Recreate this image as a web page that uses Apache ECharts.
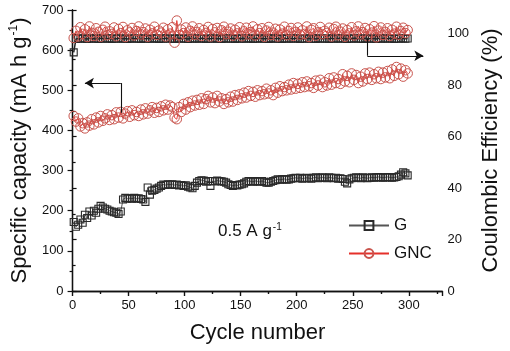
<!DOCTYPE html>
<html>
<head>
<meta charset="utf-8">
<script src="https://cdn.jsdelivr.net/npm/echarts@6/dist/echarts.min.js"></script>
<style>
html,body{margin:0;padding:0;background:#fff;}
#chart{width:510px;height:351px;}
</style>
</head>
<body>
<div id="chart"></div>
<script>
// Cycles are sampled every 2nd cycle: 1, 3, 5, ... 299
const cycleStart = 1;
const cycleStep = 2;

// Specific capacity of G (mA h g-1)
const gCapacity = [
172,160,165,178,170,190,182,198,188,200,
195,205,212,208,205,203,200,198,196,195,
192,198,228,232,230,231,230,232,230,231,
229,228,222,258,240,250,252,255,258,262,
265,264,266,265,266,264,265,263,264,262,
263,260,258,256,262,270,274,276,275,272,
274,262,274,273,275,274,273,272,270,266,
264,262,264,263,265,266,268,272,274,273,
272,274,273,272,274,272,270,270,272,274,
276,278,277,278,279,277,278,280,281,282,
281,282,280,281,282,281,280,282,283,281,
282,283,282,281,283,282,281,282,280,281,
279,272,268,278,281,282,283,282,281,283,
282,281,282,283,282,283,284,283,282,283,
284,283,282,283,284,286,290,296,293,288];

// Specific capacity of GNC (mA h g-1)
const gncCapacity = [
436,422,430,410,418,405,420,412,428,415,
432,420,436,424,430,440,426,438,428,445,
432,446,430,442,448,434,450,438,446,436,
452,440,455,442,450,458,444,456,446,460,
450,464,452,462,458,432,428,458,446,466,
452,470,458,474,462,476,464,480,466,478,
486,470,482,468,486,472,480,466,478,470,
484,472,488,476,490,480,494,482,498,486,
496,484,500,488,498,490,504,492,500,488,
506,494,510,498,508,500,514,502,518,504,
516,506,520,508,522,510,518,506,524,512,
526,508,520,512,530,514,532,518,528,516,
540,522,536,520,542,526,538,518,534,522,
542,528,544,526,540,530,546,528,544,532,
548,530,552,536,558,540,554,534,550,542];

// Coulombic efficiency of G (%)
const gEfficiency = [
92.8,98.0,98.2,98.1,98.3,98.2,98.0,98.2,98.3,98.1,
98.2,98.0,98.3,98.2,98.1,98.2,98.3,98.0,98.2,98.1,
98.3,98.2,98.1,98.2,98.0,98.2,98.3,98.1,98.2,98.2,
98.0,98.3,98.1,98.2,98.2,98.1,98.3,98.2,98.0,98.2,
98.1,98.3,98.2,98.2,98.1,98.0,98.2,98.3,98.1,98.2,
98.2,98.0,98.3,98.1,98.2,98.2,98.1,98.3,98.2,98.0,
98.2,98.1,98.3,98.2,98.1,98.2,98.0,98.3,98.2,98.1,
98.2,98.2,98.0,98.3,98.1,98.2,98.2,98.1,98.3,98.2,
98.0,98.2,98.1,98.3,98.2,98.1,98.2,98.0,98.3,98.2,
98.1,98.2,98.2,98.0,98.3,98.1,98.2,98.2,98.1,98.3,
98.2,98.0,98.2,98.1,98.3,98.2,98.1,98.2,98.0,98.3,
98.2,98.1,98.2,98.2,98.0,98.3,98.1,98.2,98.2,98.1,
98.3,98.2,98.0,98.2,98.1,98.3,98.2,98.1,98.2,98.0,
98.3,98.2,98.1,98.2,98.2,98.0,98.3,98.1,98.2,98.2,
98.1,98.3,98.2,98.0,98.2,98.1,98.3,98.2,98.1,98.2];

// Coulombic efficiency of GNC (%)
const gncEfficiency = [
98.4,101.2,99.0,102.6,100.0,101.8,98.8,102.9,100.4,99.2,
102.2,100.8,98.9,101.6,102.8,99.5,101.0,100.0,102.5,99.1,
101.9,100.3,102.7,98.8,101.4,100.6,102.3,99.4,101.1,102.9,
99.8,100.7,102.1,98.9,101.6,100.2,102.8,99.6,101.3,100.5,
102.4,99.0,101.8,100.1,102.6,96.6,105.2,99.5,101.7,100.3,
102.5,98.9,101.2,102.9,99.7,100.8,102.2,99.2,101.5,100.4,
102.7,99.0,101.9,100.6,102.3,98.8,101.4,102.8,99.9,100.9,
102.1,99.3,101.6,100.2,102.6,99.1,101.0,102.4,99.8,100.7,
102.9,99.4,101.8,100.3,102.2,98.9,101.3,102.7,99.6,100.5,
102.0,99.0,101.7,100.1,102.8,99.5,101.1,102.3,99.2,100.8,
102.5,99.7,101.4,100.0,102.9,98.8,101.6,102.2,99.3,100.6,
102.7,99.9,101.2,100.4,102.4,99.0,101.9,102.8,99.5,100.9,
102.1,98.9,101.5,100.2,102.6,99.4,101.0,102.9,99.8,100.7,
102.3,99.1,101.8,100.5,103.0,98.7,101.3,102.5,99.6,100.8,
102.2,99.2,101.6,100.1,102.8,99.7,101.1,102.4,100.3,101.5];

const xTickLabels = ['0','50','100','150','200','250','300'];
const leftTickLabels = ['0','100','200','300','400','500','600','700'];
const rightTickLabels = ['0','20','40','60','80','100'];

function pair(values) {
  return values.map((v, i) => [cycleStart + cycleStep * i, v]);
}

const FONT = '"Liberation Sans", Arial, sans-serif';
const chart = echarts.init(document.getElementById('chart'), null, {renderer: 'canvas'});

const axisLineStyle = {color: '#111', width: 1.3};
const HOLLOW = 'rgba(255,255,255,0)';

const option = {
  animation: false,
  backgroundColor: '#fff',
  grid: {left: 72, right: 56, top: 10, bottom: 60},
  legend: {
    orient: 'vertical',
    left: 343,
    top: 212,
    itemWidth: 40,
    itemHeight: 11,
    itemGap: 11,
    data: ['G', 'GNC'],
    textStyle: {fontFamily: FONT, fontSize: 17, color: '#111'},
    selectedMode: false
  },
  graphic: [{
    type: 'text',
    left: 218,
    top: 222,
    style: {
      text: '0.5 A g{sup|-1}',
      fontFamily: FONT,
      fontSize: 17,
      fill: '#111',
      rich: {sup: {fontSize: 10, verticalAlign: 'top', padding: [0,0,8,1], fontFamily: FONT, fill: '#111'}}
    }
  }],
  xAxis: [{
    type: 'value', min: 0, max: 330, interval: 50,
    position: 'bottom',
    name: 'Cycle number', nameLocation: 'middle', nameGap: 31,
    nameTextStyle: {fontFamily: FONT, fontSize: 22, color: '#111'},
    axisLine: {show: true, lineStyle: axisLineStyle},
    axisTick: {show: true, inside: false, length: 5, lineStyle: {color: '#111', width: 1.2}},
    minorTick: {show: true, splitNumber: 2, length: 3, lineStyle: {color: '#111', width: 1.2}},
    splitLine: {show: false},
    axisLabel: {
      margin: 8, fontFamily: FONT, fontSize: 13, color: '#111',
      formatter: v => (v % 50 === 0 && v <= 300) ? xTickLabels[v / 50] : ''
    }
  }, {
    type: 'value', min: 0, max: 330, interval: 50,
    position: 'top',
    axisLine: {show: true, lineStyle: axisLineStyle},
    axisTick: {show: true, inside: true, length: 5, lineStyle: {color: '#111', width: 1.2}},
    minorTick: {show: true, splitNumber: 2, length: 3, lineStyle: {color: '#111', width: 1.2}},
    splitLine: {show: false},
    axisLabel: {show: false}
  }],
  yAxis: [{
    type: 'value', min: 0, max: 700, interval: 100,
    position: 'left',
    name: 'Specific capacity (mA h g{sup|-1})', nameLocation: 'middle', nameGap: 33, nameRotate: 90,
    nameTextStyle: {
      fontFamily: FONT, fontSize: 22, color: '#111',
      rich: {sup: {fontSize: 12, verticalAlign: 'top', padding: [0,0,12,1], fontFamily: FONT, color: '#111'}}
    },
    axisLine: {show: true, lineStyle: axisLineStyle},
    axisTick: {show: true, inside: false, length: 5, lineStyle: {color: '#111', width: 1.2}},
    minorTick: {show: true, splitNumber: 2, length: 3, lineStyle: {color: '#111', width: 1.2}},
    splitLine: {show: false},
    axisLabel: {
      margin: 9, fontFamily: FONT, fontSize: 13, color: '#111',
      formatter: v => leftTickLabels[Math.round(v / 100)]
    }
  }, {
    type: 'value', min: 0, max: 109.3, interval: 20,
    position: 'right',
    name: 'Coulombic Efficiency (%)', nameLocation: 'middle', nameGap: 36, nameRotate: 90,
    nameTextStyle: {fontFamily: FONT, fontSize: 22, color: '#111'},
    axisLine: {show: true, lineStyle: axisLineStyle},
    axisTick: {show: true, inside: false, length: 4, lineStyle: {color: '#111', width: 1.2}},
    minorTick: {show: true, splitNumber: 2, length: 3, lineStyle: {color: '#111', width: 1.2}},
    splitLine: {show: false},
    axisLabel: {
      margin: 5, fontFamily: FONT, fontSize: 13, color: '#111',
      formatter: v => (v % 20 === 0 && v <= 100) ? rightTickLabels[v / 20] : ''
    }
  }],
  series: [{
    name: 'G', type: 'line', xAxisIndex: 0, yAxisIndex: 0,
    data: pair(gCapacity),
    symbol: 'rect', symbolSize: 7, showAllSymbol: true,
    itemStyle: {color: HOLLOW, borderColor: '#2a2a2a', borderWidth: 1.1},
    lineStyle: {color: '#555', width: 1},
    markLine: {
      silent: true, symbol: ['none', 'none'], symbolSize: [8, 9],
      label: {show: false},
      lineStyle: {color: '#111', width: 1.1, type: 'solid'},
      emphasis: {disabled: true},
      data: [
        [{coord: [43, 444]}, {coord: [43, 518]}],
        [{coord: [43, 518]}, {coord: [11, 518], symbol: 'arrow'}],
        [{coord: [263, 628]}, {coord: [263, 586]}],
        [{coord: [263, 586]}, {coord: [313, 586], symbol: 'arrow'}]
      ]
    }
  }, {
    name: 'G', type: 'line', xAxisIndex: 0, yAxisIndex: 1,
    data: pair(gEfficiency),
    symbol: 'rect', symbolSize: 7, showAllSymbol: true,
    itemStyle: {color: HOLLOW, borderColor: '#2a2a2a', borderWidth: 1.1},
    lineStyle: {color: '#222', width: 1.5}
  }, {
    name: 'GNC', type: 'line', xAxisIndex: 0, yAxisIndex: 0,
    data: pair(gncCapacity),
    symbol: 'circle', symbolSize: 9.5, showAllSymbol: true,
    itemStyle: {color: HOLLOW, borderColor: '#c9544d', borderWidth: 1},
    lineStyle: {color: '#e5302a', width: 0.9}
  }, {
    name: 'GNC', type: 'line', xAxisIndex: 0, yAxisIndex: 1,
    data: pair(gncEfficiency),
    symbol: 'circle', symbolSize: 9.5, showAllSymbol: true,
    itemStyle: {color: HOLLOW, borderColor: '#c9544d', borderWidth: 1},
    lineStyle: {color: '#e5302a', width: 0.9}
  }]
};
chart.setOption(option);
</script>
</body>
</html>
